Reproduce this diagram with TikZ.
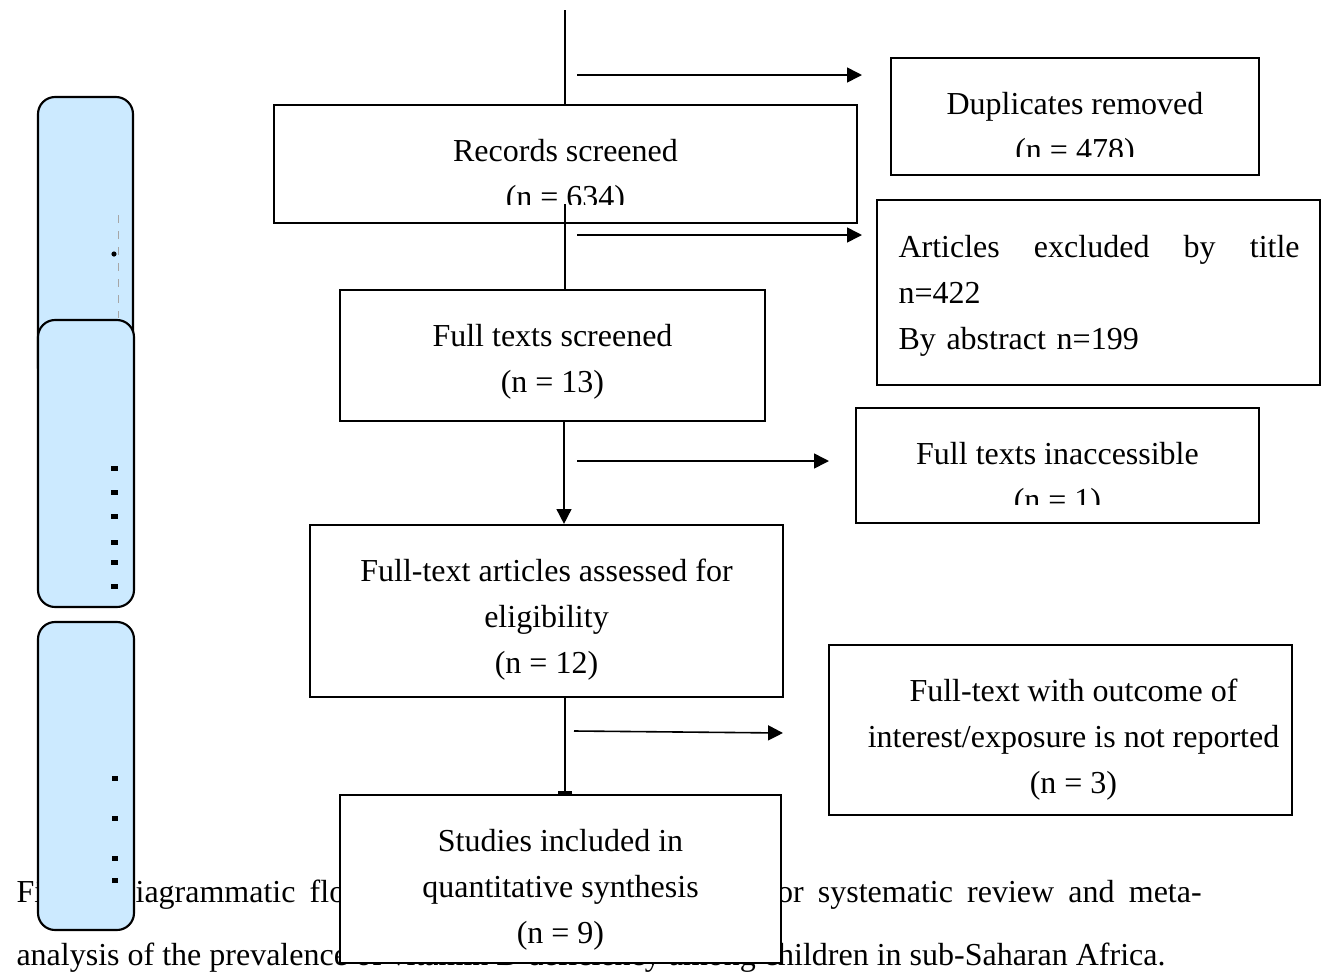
\documentclass[tikz,border=0pt]{standalone}
\usepackage{fontspec}
\setmainfont{Liberation Serif}
\usepackage{tikz}
\usetikzlibrary{arrows.meta,fit,calc}

\definecolor{sidebl}{RGB}{204,234,255}

\begin{document}
\begin{tikzpicture}[x=0.375pt,y=-0.375pt,
  every node/.style={font=\fontsize{12}{17.25}\selectfont,inner sep=0pt},
  box/.style={draw,line width=0.8pt,fill=white,inner sep=0pt},
  bluebox/.style={draw,line width=0.8pt,fill=sidebl,rounded corners=6.4pt,inner sep=0pt},
  txt/.style={anchor=north,align=center},
  conn/.style={line width=0.6pt,-{Triangle[length=5.6pt,width=5.6pt]}},
  spine/.style={line width=0.5pt}]
  \useasboundingbox (0,0) rectangle (1327,972);
  % caption lines, partly covered by the boxes
  \node[anchor=base west] (cap1) at (16,902)
    {\makebox[444.4pt][s]{Fig1:\hspace{2pt} Diagrammatic flow chart of the study selection for systematic review and meta-}};
  \node[anchor=base west] (cap2) at (16,965)
    {analysis of the prevalence of vitamin D deficiency among children in sub-Saharan Africa.};
  % side boxes
  \node[bluebox,fit={(38,97) (133,385)}] (sideA) {};
  \node[bluebox,fit={(38,320) (134,607)}] (sideB) {};
  \node[bluebox,fit={(38,622) (134,930)}] (sideC) {};
  \draw[gray!70,dashed,line width=0.3pt] (118,215) -- (118,318);
  \fill (114,254) circle (2.6);
  \foreach \y in {466,490,514,540,560,584}{\fill (111,\y) rectangle (118,\y+5);}
  \foreach \y in {776,816,856,878}{\fill (112,\y) rectangle (118,\y+5);}
  % main boxes
  \node[box,fit={(891,58) (1259,175)}] (dup) {};
  \node[box,fit={(274,105) (857,223)}] (rec) {};
  \node[box,fit={(877,200) (1320,385)}] (excl) {};
  \node[box,fit={(340,290) (765,421)}] (fts) {};
  \node[box,fit={(856,408) (1259,523)}] (inacc) {};
  \node[box,fit={(310,525) (783,697)}] (elig) {};
  \node[box,fit={(829,645) (1292,815)}] (outc) {};
  \node[box,fit={(340,795) (781,963)}] (incl) {};
  % texts
  \begin{scope}
    \clip (dup.north west) rectangle ($(dup.south east)+(0,-20)$);
    \node[txt] (duptxt) at ($(dup.north)+(0,25)$) {\strut Duplicates removed\\(n = 478)};
  \end{scope}
  \begin{scope}
    \clip (rec.north west) rectangle ($(rec.south east)+(0,-20)$);
    \node[txt] (rectxt) at ($(rec.north)+(0,25)$) {\strut Records screened\\(n = 634)};
  \end{scope}
  \begin{scope}
    \clip (inacc.north west) rectangle ($(inacc.south east)+(0,-20)$);
    \node[txt] (inacctxt) at ($(inacc.north)+(0,25)$) {\strut Full texts inaccessible\\(n = 1)};
  \end{scope}
  \node[anchor=north west,align=left,text width=150.4pt] (excltxt) at (898,225)
    {\strut\makebox[150.4pt][s]{\spaceskip=0pt\relax Articles excluded by title}\\n=422\\By abstract n=199};
  \node[txt] (ftstxt) at ($(fts.north)+(0,25)$) {\strut Full texts screened\\(n = 13)};
  \node[txt] (eligtxt) at ($(elig.north)+(0,25)$) {\strut Full-text articles assessed for\\eligibility\\(n = 12)};
  \node[txt] (outctxt) at ($(outc.north)+(13,25)$) {\strut Full-text with outcome of\\interest/exposure is not reported\\(n = 3)};
  \node[txt] (incltxt) at ($(incl.north)+(0,25)$) {\strut Studies included in\\quantitative synthesis\\(n = 9)};
  % vertical flow
  \coordinate (s0) at (565,10);
  \coordinate (s1) at (565,204);
  \coordinate (s2) at (564,421);
  \coordinate (s3) at (565,697);
  \draw[spine] (s0) -- (s0 |- rec.north);
  \draw[spine] (s1) -- (s1 |- fts.north);
  \draw[conn] (s2) -- (s2 |- elig.north);
  \draw[spine,-{Bar[width=5.6pt,line width=1pt]}] (s3) -- (s3 |- incl.north);
  % side arrows
  \coordinate (a1) at (577,75);   \coordinate (b1) at (862,75);
  \coordinate (a2) at (577,235);  \coordinate (b2) at (862,235);
  \coordinate (a3) at (577,461);  \coordinate (b3) at (829,461);
  \coordinate (a4) at (574,731);  \coordinate (b4) at (783,733);
  \foreach \i in {1,...,4}{\draw[conn] (a\i) -- (b\i);}
\end{tikzpicture}
\end{document}
